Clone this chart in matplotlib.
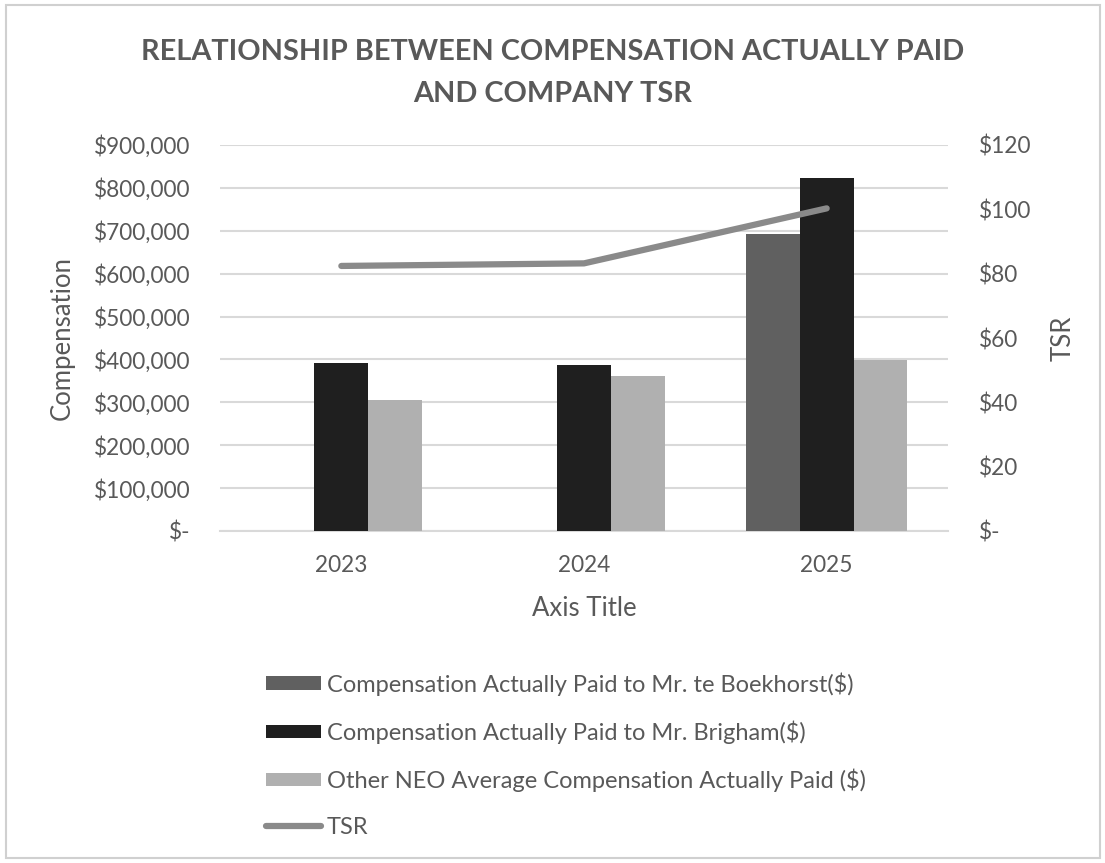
import matplotlib
matplotlib.use("Agg")
import matplotlib.pyplot as plt
import numpy as np
from matplotlib.patches import Rectangle

years = ["2023", "2024", "2025"]
boekhorst = [np.nan, np.nan, 692000]
brigham = [391000, 387000, 824000]
other_neo = [306000, 361000, 399000]
tsr = [82.4, 83.2, 100.3]

left_ticks = [0, 100000, 200000, 300000, 400000, 500000, 600000, 700000, 800000, 900000]
left_labels = ["$-", "$100,000", "$200,000", "$300,000", "$400,000", "$500,000",
               "$600,000", "$700,000", "$800,000", "$900,000"]
right_ticks = [0, 20, 40, 60, 80, 100, 120]
right_labels = ["$-", "$20", "$40", "$60", "$80", "$100", "$120"]

series_names = ["Compensation Actually Paid to Mr. te Boekhorst($)",
                "Compensation Actually Paid to Mr. Brigham($)",
                "Other NEO Average Compensation Actually Paid ($)",
                "TSR"]
title_lines = ["RELATIONSHIP BETWEEN COMPENSATION ACTUALLY PAID", "AND COMPANY TSR"]

TXT = "#595959"
FONT = ["Lato", "DejaVu Sans"]
plt.rcParams["font.family"] = FONT

W, H = 1105, 863
fig = plt.figure(figsize=(W / 100, H / 100), dpi=100)
fig.patches.append(Rectangle((6 / W, 5 / H), 1 - 11 / W, 1 - 10 / H, transform=fig.transFigure,
                             fill=False, edgecolor="#d0d0d0", linewidth=1.5))

ax = fig.add_axes([220 / W, 1 - 531 / H, 728 / W, 386 / H])
ax2 = ax.twinx()

x = np.arange(len(years))
w = 0.222
b1 = ax.bar(x - w, boekhorst, w, color="#606060", label=series_names[0], zorder=3)
b2 = ax.bar(x, brigham, w, color="#1f1f1f", label=series_names[1], zorder=3)
b3 = ax.bar(x + w, other_neo, w, color="#b0b0b0", label=series_names[2], zorder=3)
ln, = ax2.plot(x, tsr, color="#8a8a8a", linewidth=4.5, solid_capstyle="round",
               label=series_names[3], zorder=4)

ax.set_xlim(-0.5, 2.5)
ax.set_ylim(0, 900000)
ax2.set_ylim(0, 120)
ax.set_yticks(left_ticks)
ax.set_yticklabels(left_labels)
ax2.set_yticks(right_ticks)
ax2.set_yticklabels(right_labels)
ax.set_xticks(x)
ax.set_xticklabels(years)

ax.yaxis.grid(True, color="#d9d9d9", linewidth=1.5, zorder=0)
ax.set_axisbelow(True)
for a in (ax, ax2):
    for s in a.spines.values():
        s.set_visible(False)
    a.tick_params(length=0, labelsize=16.3, colors=TXT)
ax.spines["bottom"].set_visible(True)
ax.spines["bottom"].set_color("#d9d9d9")
ax.spines["bottom"].set_linewidth(1.5)
ax.tick_params(axis="y", pad=21.5)
ax.tick_params(axis="x", pad=17)
ax2.tick_params(axis="y", pad=22)

ax.set_ylabel("Compensation", fontsize=18.5, color=TXT, va="center", ha="center")
ax.yaxis.set_label_coords((62 - 220) / 728, 0.5)
ax2.set_ylabel("TSR", fontsize=18.5, color=TXT, va="center", ha="center")
ax2.yaxis.set_label_coords((1063 - 220) / 728, 0.5)
ax.set_xlabel("Axis Title", fontsize=18.5, color=TXT, va="center", ha="center")
ax.xaxis.set_label_coords(0.5, (531 - 608) / 386)

fig.text(0.5, 1 - 60 / H, title_lines[0], ha="center", va="baseline",
         fontsize=20.8, fontweight="bold", color=TXT)
fig.text(0.5, 1 - 102 / H, title_lines[1], ha="center", va="baseline",
         fontsize=20.8, fontweight="bold", color=TXT)

leg = fig.legend([b1, b2, b3, ln], series_names, loc="upper left",
                 bbox_to_anchor=(266 / W, 1 - 672 / H), frameon=False, fontsize=17,
                 labelcolor=TXT, handlelength=2.33, handleheight=0.5,
                 handletextpad=0.25, labelspacing=1.05, borderpad=0, borderaxespad=0)

fig.savefig("out.png", dpi=100)
